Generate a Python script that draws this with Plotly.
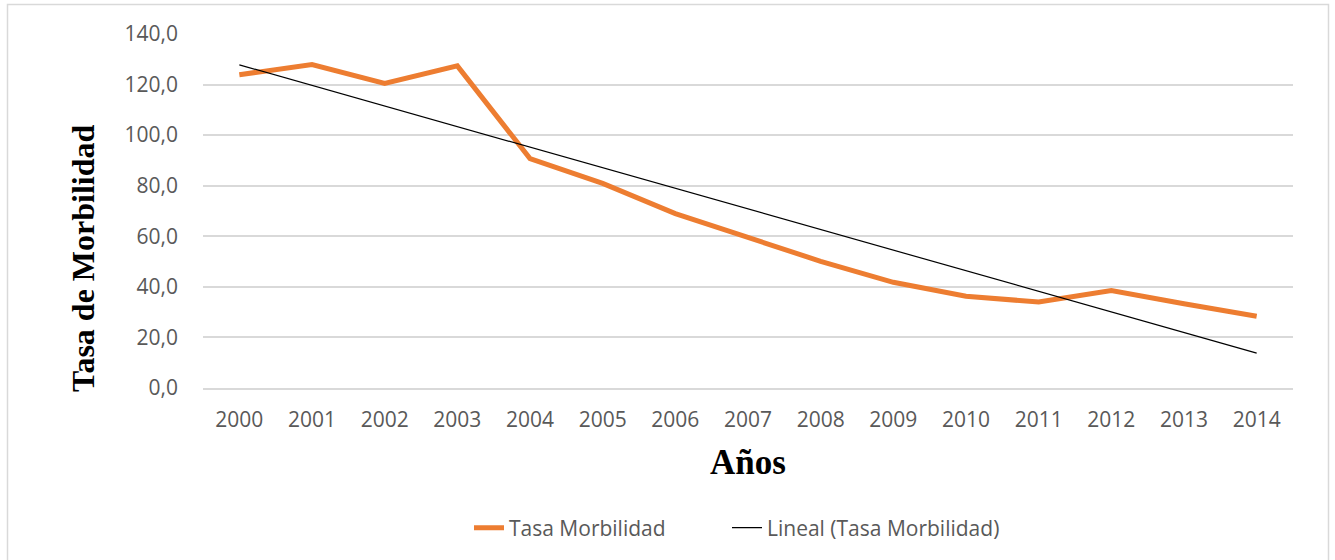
import numpy as np
import plotly.graph_objects as go

years = ["2000", "2001", "2002", "2003", "2004", "2005", "2006", "2007",
         "2008", "2009", "2010", "2011", "2012", "2013", "2014"]
tasa = [123.9, 127.9, 120.5, 127.4, 90.7, 80.9, 69.0, 59.5,
        50.1, 41.8, 36.3, 34.0, 38.5, 33.3, 28.4]

xi = np.arange(len(years))
slope, intercept = np.polyfit(xi, tasa, 1)
trend = (slope * xi + intercept).tolist()

W, H = 1335, 560
L, R, T, B = 203, 42, 34, 172
pw, ph = W - L - R, H - T - B

def px(x):
    return (x - L) / pw

def py(y):
    return (H - B - y) / ph

fig = go.Figure()
fig.add_trace(go.Scatter(x=years, y=tasa, mode="lines", name="Tasa Morbilidad",
                         line=dict(color="#ED7D31", width=5), legend="legend"))
fig.add_trace(go.Scatter(x=years, y=trend, mode="lines", name="Lineal (Tasa Morbilidad)",
                         line=dict(color="#000000", width=1.2), legend="legend2"))

leg_common = dict(orientation="h", yanchor="middle", y=py(528), xanchor="left",
                  font=dict(size=21, color="#595959"), bgcolor="rgba(0,0,0,0)",
                  itemwidth=30, tracegroupgap=0)

fig.update_layout(
    width=W, height=H,
    margin=dict(l=L, r=R, t=T, b=B),
    paper_bgcolor="white", plot_bgcolor="white",
    separators=",.",
    font=dict(family="Open Sans, Lato, sans-serif", size=21, color="#595959"),
    showlegend=True,
    legend=dict(x=px(469), **leg_common),
    legend2=dict(x=px(727), **leg_common),
    xaxis=dict(type="category", range=[-0.5, 14.5], showgrid=False,
               showline=True, linecolor="#D9D9D9", linewidth=1.5, ticks="",
               tickfont=dict(size=21, color="#595959"), ticklabelstandoff=12),
    yaxis=dict(range=[0, 140], dtick=20, tickformat=".1f", showgrid=True,
               gridcolor="#D9D9D9", gridwidth=1.5, zeroline=False, showline=False,
               ticks="", tickfont=dict(size=21, color="#595959"), ticklabelstandoff=24),
    annotations=[
        dict(text="<b>Años</b>", xref="paper", yref="paper", x=px(748), y=py(463),
             xanchor="center", yanchor="middle", showarrow=False,
             font=dict(family="Liberation Serif, Times New Roman, serif", size=35, color="#000000")),
        dict(text="<b>Tasa de Morbilidad</b>", xref="paper", yref="paper", x=px(83), y=py(258),
             xanchor="center", yanchor="middle", showarrow=False, textangle=-90,
             font=dict(family="Liberation Serif, Times New Roman, serif", size=32, color="#000000")),
    ],
    shapes=[
        dict(type="rect", xref="paper", yref="paper", x0=px(7.5), x1=px(1328.5),
             y0=py(600), y1=py(4.5), line=dict(color="#D9D9D9", width=1.5), layer="below"),
    ],
)

fig.write_html("out.html", config={"displayModeBar": False},
               post_script="document.body.style.margin='0';document.body.style.overflow='hidden';")
